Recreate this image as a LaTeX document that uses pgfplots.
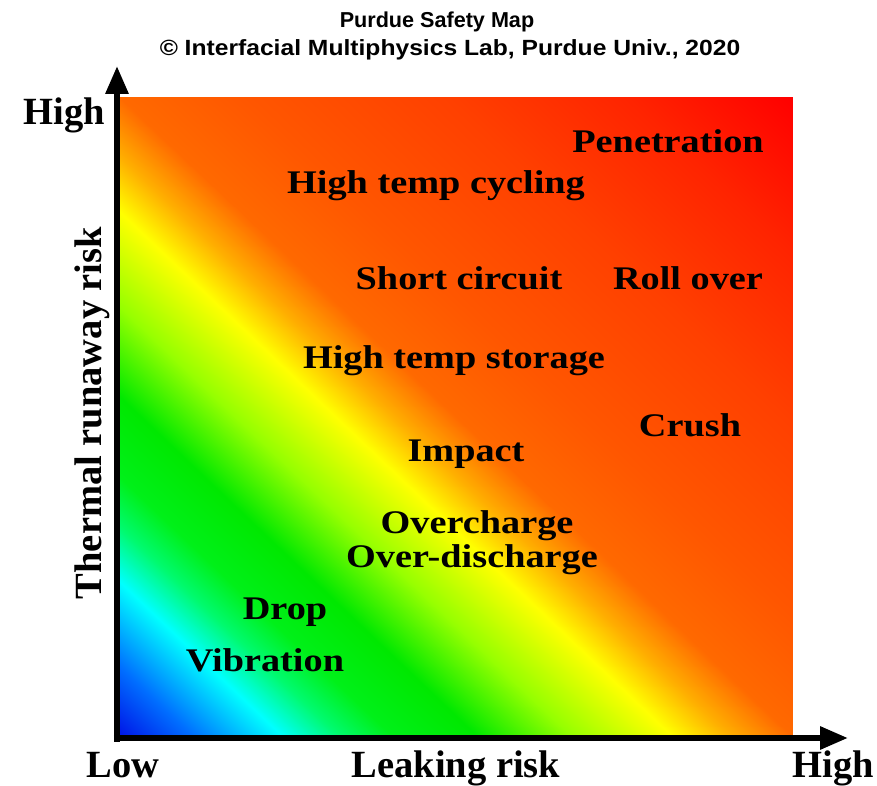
\documentclass[border=0pt]{standalone}
\usepackage{fontspec}
\setmainfont{Liberation Serif}
\newfontfamily\lblfont{Liberation Serif}[FakeStretch=1.16]
\newfontfamily\titlefont{Liberation Sans}
\newfontfamily\titlefontw{Liberation Sans}[FakeStretch=1.12]
\usepackage{pgfplots}
\usepackage{pgfplotstable}
\pgfplotsset{compat=1.18}
\usetikzlibrary{arrows.meta}

% corners of the map, meta = position along the risk gradient
\pgfplotstableread{
x y s
0 0 0
672 0 638
0 640 640
672 640 1278
}\gradtable

\pgfplotsset{
  colormap={safety}{
    rgb255(0pt)=(0,20,230)
    rgb255(70pt)=(0,110,255)
    rgb255(155pt)=(0,255,255)
    rgb255(210pt)=(0,250,110)
    rgb255(260pt)=(0,240,25)
    rgb255(340pt)=(0,232,0)
    rgb255(430pt)=(150,255,0)
    rgb255(525pt)=(255,255,0)
    rgb255(580pt)=(255,175,0)
    rgb255(640pt)=(255,105,0)
    rgb255(760pt)=(255,86,0)
    rgb255(950pt)=(255,64,0)
    rgb255(1120pt)=(255,36,0)
    rgb255(1278pt)=(255,0,0)
  }
}

\tikzset{
  lbl/.style={anchor=base, inner sep=0pt, font=\lblfont\bfseries\fontsize{16.5}{18}\selectfont},
  axl/.style={anchor=base, inner sep=0pt, font=\bfseries\fontsize{19.25}{21}\selectfont},
}

\begin{document}
\begin{tikzpicture}
\begin{axis}[
  scale only axis, width=336pt, height=320pt,
  xmin=0, xmax=672, ymin=0, ymax=640,
  hide axis, clip=false,
  colormap name=safety,
]
\addplot[surf, shader=interp, mesh/rows=2, mesh/cols=2, point meta=explicit]
  table[x=x, y=y, meta=s] {\gradtable};

% bounding box of the whole figure
\path (axis cs:-120,-49) rectangle (axis cs:757,737);

% axes arrows
\draw[line width=3pt, -{Triangle[length=14pt,width=11pt]}] (axis cs:-3,-4.5) -- (axis cs:-3,671);
\draw[line width=3pt, -{Triangle[length=14pt,width=11pt]}] (axis cs:-6,-1) -- (axis cs:728,-1);

% titles
\node[anchor=base, inner sep=0pt, font=\titlefont\bfseries\fontsize{10.8}{12}\selectfont] at (axis cs:317,709) {Purdue Safety Map};
\node[anchor=base, inner sep=0pt, font=\titlefontw\bfseries\fontsize{11}{12}\selectfont] at (axis cs:330,681) {© Interfacial Multiphysics Lab, Purdue Univ., 2020};

% axis labels
\node[axl] at (axis cs:-56,612) {High};
\node[axl] at (axis cs:3,-40) {Low};
\node[axl] at (axis cs:336,-40) {Leaking risk};
\node[axl] at (axis cs:713,-40) {High};
\node[axl, rotate=90] at (axis cs:-18,324) {Thermal runaway risk};

% hazard labels
\node[lbl] at (axis cs:548,584) {Penetration};
\node[lbl] at (axis cs:316,543) {High temp cycling};
\node[lbl] at (axis cs:339,447) {Short circuit};
\node[lbl] at (axis cs:568,447) {Roll over};
\node[lbl] at (axis cs:334,368) {High temp storage};
\node[lbl] at (axis cs:570,300) {Crush};
\node[lbl] at (axis cs:346,275) {Impact};
\node[lbl] at (axis cs:357,203) {Overcharge};
\node[lbl] at (axis cs:352,169) {Over-discharge};
\node[lbl] at (axis cs:165,117) {Drop};
\node[lbl] at (axis cs:145,65) {Vibration};
\end{axis}
\end{tikzpicture}
\end{document}
